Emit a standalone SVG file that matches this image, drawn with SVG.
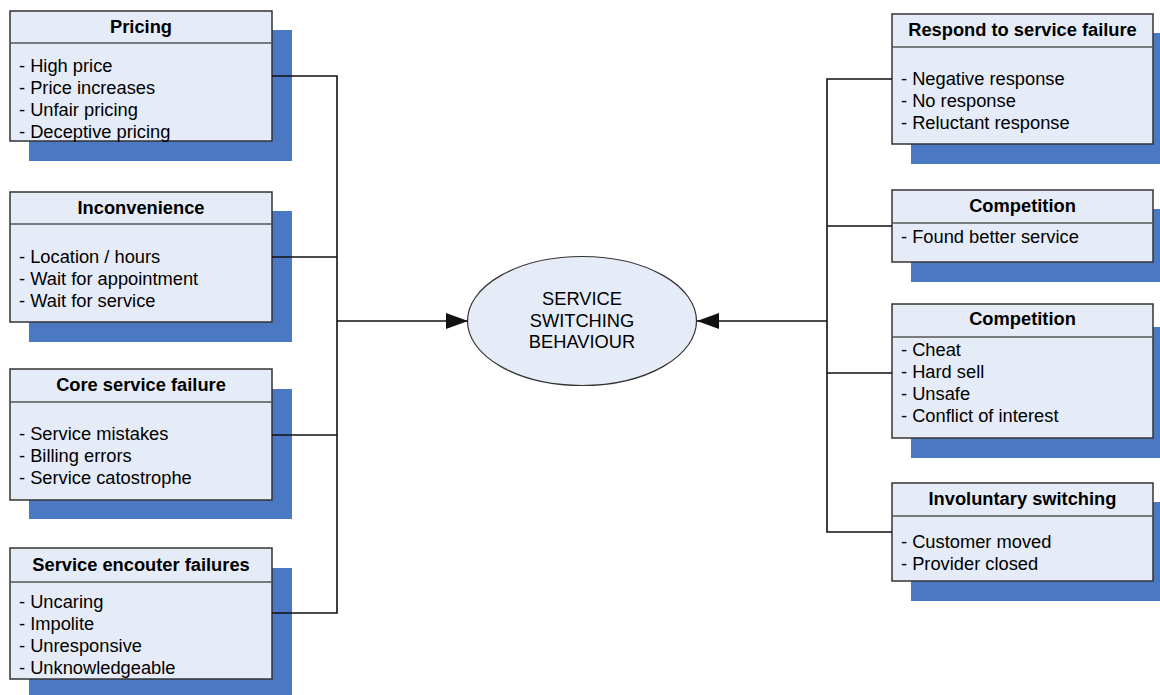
<svg xmlns="http://www.w3.org/2000/svg" width="1160" height="695" viewBox="0 0 1160 695">
  <style>
    .shadow { fill: #4A78C2; }
    .box { fill: #E6ECF7; stroke: #333; stroke-width: 1.5; }
    .div { stroke: #555; stroke-width: 1.5; }
    .title { font-family: "Liberation Sans", Arial, sans-serif; font-size: 18.3px; font-weight: bold; fill: #000; text-anchor: middle; }
    .item { font-family: "Liberation Sans", Arial, sans-serif; font-size: 18.3px; fill: #000; }
    .wire { fill: none; stroke: #111; stroke-width: 1.6; }
    .centre { font-family: "Liberation Sans", Arial, sans-serif; font-size: 18.3px; fill: #000; text-anchor: middle; }
  </style>
  <defs>
    <marker id="arrow" markerUnits="userSpaceOnUse" markerWidth="24" markerHeight="18" refX="22" refY="8" orient="auto">
      <path d="M0,0 L22,8 L0,16 Z" fill="#111"/>
    </marker>
  </defs>
  <rect width="1160" height="695" fill="#fff"/>

  <!-- left column -->
  <g id="pricing">
    <rect class="shadow" x="29" y="30" width="263" height="131"/>
    <rect class="box" x="10" y="11" width="262" height="130"/>
    <line class="div" x1="10" y1="43" x2="272" y2="43"/>
    <text class="title" x="141" y="33">Pricing</text>
    <text class="item" x="19" y="72">- High price</text>
    <text class="item" x="19" y="94">- Price increases</text>
    <text class="item" x="19" y="116">- Unfair pricing</text>
    <text class="item" x="19" y="138">- Deceptive pricing</text>
  </g>

  <g id="inconvenience">
    <rect class="shadow" x="29" y="211" width="263" height="131"/>
    <rect class="box" x="10" y="192" width="262" height="130"/>
    <line class="div" x1="10" y1="224" x2="272" y2="224"/>
    <text class="title" x="141" y="214">Inconvenience</text>
    <text class="item" x="19" y="263">- Location / hours</text>
    <text class="item" x="19" y="285">- Wait for appointment</text>
    <text class="item" x="19" y="307">- Wait for service</text>
  </g>

  <g id="core-failure">
    <rect class="shadow" x="29" y="389" width="263" height="130"/>
    <rect class="box" x="10" y="369" width="262" height="131"/>
    <line class="div" x1="10" y1="402" x2="272" y2="402"/>
    <text class="title" x="141" y="391">Core service failure</text>
    <text class="item" x="19" y="440">- Service mistakes</text>
    <text class="item" x="19" y="462">- Billing errors</text>
    <text class="item" x="19" y="484">- Service catostrophe</text>
  </g>

  <g id="encounter-failures">
    <rect class="shadow" x="29" y="568" width="263" height="127"/>
    <rect class="box" x="10" y="548" width="262" height="131"/>
    <line class="div" x1="10" y1="582" x2="272" y2="582"/>
    <text class="title" x="141" y="571">Service encouter failures</text>
    <text class="item" x="19" y="608">- Uncaring</text>
    <text class="item" x="19" y="630">- Impolite</text>
    <text class="item" x="19" y="652">- Unresponsive</text>
    <text class="item" x="19" y="674">- Unknowledgeable</text>
  </g>

  <!-- centre -->
  <g id="switching">
    <ellipse cx="582" cy="321" rx="114.5" ry="64.5" fill="#E6ECF7" stroke="#333" stroke-width="1.2"/>
    <text class="centre" x="582" y="305">SERVICE</text>
    <text class="centre" x="582" y="327">SWITCHING</text>
    <text class="centre" x="582" y="348">BEHAVIOUR</text>
  </g>

  <!-- right column -->
  <g id="respond">
    <rect class="shadow" x="911" y="33" width="262" height="131"/>
    <rect class="box" x="892" y="14" width="261" height="130"/>
    <line class="div" x1="892" y1="47" x2="1153" y2="47"/>
    <text class="title" x="1022.5" y="36">Respond to service failure</text>
    <text class="item" x="901" y="85">- Negative response</text>
    <text class="item" x="901" y="107">- No response</text>
    <text class="item" x="901" y="129">- Reluctant response</text>
  </g>

  <g id="competition-better">
    <rect class="shadow" x="911" y="209" width="262" height="73"/>
    <rect class="box" x="892" y="190" width="261" height="72"/>
    <line class="div" x1="892" y1="223" x2="1153" y2="223"/>
    <text class="title" x="1022.5" y="212">Competition</text>
    <text class="item" x="901" y="243">- Found better service</text>
  </g>

  <g id="competition-ethics">
    <rect class="shadow" x="911" y="327" width="262" height="131"/>
    <rect class="box" x="892" y="304" width="261" height="134"/>
    <line class="div" x1="892" y1="337" x2="1153" y2="337"/>
    <text class="title" x="1022.5" y="325">Competition</text>
    <text class="item" x="901" y="356">- Cheat</text>
    <text class="item" x="901" y="378">- Hard sell</text>
    <text class="item" x="901" y="400">- Unsafe</text>
    <text class="item" x="901" y="422">- Conflict of interest</text>
  </g>

  <g id="involuntary">
    <rect class="shadow" x="911" y="502" width="262" height="99"/>
    <rect class="box" x="892" y="483" width="261" height="98"/>
    <line class="div" x1="892" y1="516" x2="1153" y2="516"/>
    <text class="title" x="1022.5" y="505">Involuntary switching</text>
    <text class="item" x="901" y="548">- Customer moved</text>
    <text class="item" x="901" y="570">- Provider closed</text>
  </g>

  <!-- connectors, drawn last so they run over the drop shadows -->
  <g id="connectors">
    <polyline class="wire" points="272,76 337,76 337,613 272,613"/>
    <line class="wire" x1="272" y1="257" x2="337" y2="257"/>
    <line class="wire" x1="272" y1="435" x2="337" y2="435"/>
    <line class="wire" x1="337" y1="321" x2="468" y2="321" marker-end="url(#arrow)"/>
    <polyline class="wire" points="892,79 827,79 827,532 892,532"/>
    <line class="wire" x1="827" y1="226" x2="892" y2="226"/>
    <line class="wire" x1="827" y1="373" x2="892" y2="373"/>
    <line class="wire" x1="827" y1="321" x2="697" y2="321" marker-end="url(#arrow)"/>
  </g>
</svg>
